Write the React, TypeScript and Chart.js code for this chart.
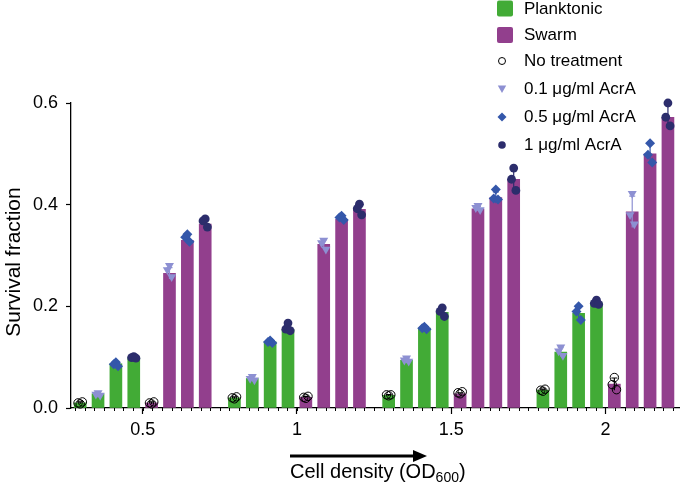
import React, { useEffect, useRef } from 'react';
import { Chart, registerables } from 'chart.js';

Chart.register(...registerables);

// ---------------- data ----------------
const densities = [0.5, 1, 1.5, 2];
const densityTickLabels = ['0.5', '1', '1.5', '2'];
const yTickValues = [0, 0.2, 0.4, 0.6];
const cultureLabels = ['Planktonic', 'Swarm'];
const treatmentLabels = ['No treatment', '0.1 μg/ml AcrA', '0.5 μg/ml AcrA', '1 μg/ml AcrA'];

// bar heights (mean survival fraction), one per cell density
const planktonicNone = [0.010, 0.020, 0.025, 0.035];
const planktonic01 = [0.028, 0.058, 0.094, 0.110];
const planktonic05 = [0.087, 0.130, 0.157, 0.186];
const planktonic1 = [0.099, 0.155, 0.188, 0.207];
const swarmNone = [0.010, 0.021, 0.028, 0.047];
const swarm01 = [0.265, 0.322, 0.392, 0.386];
const swarm05 = [0.330, 0.371, 0.414, 0.500];
const swarm1 = [0.362, 0.391, 0.450, 0.572];

// replicate points (3 per bar), one triple per cell density
const planktonicNoneReps = [[0.008, 0.010, 0.012], [0.018, 0.020, 0.022], [0.024, 0.026, 0.026], [0.033, 0.035, 0.037]];
const planktonic01Reps = [[0.030, 0.027, 0.025], [0.062, 0.058, 0.055], [0.098, 0.094, 0.092], [0.120, 0.112, 0.103]];
const planktonic05Reps = [[0.090, 0.086, 0.082], [0.133, 0.130, 0.128], [0.160, 0.157, 0.155], [0.200, 0.190, 0.173]];
const planktonic1Reps = [[0.101, 0.099, 0.098], [0.167, 0.155, 0.152], [0.197, 0.190, 0.180], [0.212, 0.206, 0.204]];
const swarmNoneReps = [[0.008, 0.010, 0.012], [0.019, 0.021, 0.023], [0.028, 0.030, 0.032], [0.060, 0.046, 0.036]];
const swarm01Reps = [[0.280, 0.272, 0.258], [0.330, 0.325, 0.312], [0.398, 0.394, 0.390], [0.422, 0.380, 0.362]];
const swarm05Reps = [[0.342, 0.336, 0.327], [0.378, 0.375, 0.370], [0.430, 0.412, 0.410], [0.521, 0.498, 0.483]];
const swarm1Reps = [[0.372, 0.368, 0.356], [0.401, 0.392, 0.380], [0.472, 0.450, 0.428], [0.600, 0.572, 0.555]];

// ---------------- styling / layout ----------------
const FONT = '"Liberation Sans", Arial, Helvetica, sans-serif';
const cultureColors = ['#42ab36', '#923f8d'];
const treatmentColors = ['#000000', '#8d90d2', '#3457aa', '#2c2d6c'];
const X_MIN = 0.2676;
const X_MAX = 2.2411;
const BAR_STEP = 0.0579;
const MINOR_STEP = 0.03125;
const JITTER = [0, -0.007, 0.007];

const means = [
  [planktonicNone, planktonic01, planktonic05, planktonic1],
  [swarmNone, swarm01, swarm05, swarm1],
];
const reps = [
  [planktonicNoneReps, planktonic01Reps, planktonic05Reps, planktonic1Reps],
  [swarmNoneReps, swarm01Reps, swarm05Reps, swarm1Reps],
];

const slotX = (d: number, ci: number, ti: number) => d + (ci * 4 + ti - 3.5) * BAR_STEP;
const sd = (a: number[]) => {
  const m = a.reduce((s, v) => s + v, 0) / a.length;
  return Math.sqrt(a.reduce((s, v) => s + (v - m) * (v - m), 0) / (a.length - 1));
};

const errorBarPlugin = {
  id: 'errorBars',
  afterDatasetDraw(chart: any, args: any) {
    const ds = chart.data.datasets[args.index];
    if (!ds.errorBars) return;
    const { ctx } = chart;
    const xs = chart.scales.x;
    const ys = chart.scales.y;
    ctx.save();
    ds.errorBars.forEach((e: any) => {
      const px = xs.getPixelForValue(e.x);
      const t = ys.getPixelForValue(e.mean + e.sd);
      const b = ys.getPixelForValue(Math.max(0, e.mean - e.sd));
      ctx.strokeStyle = e.color;
      ctx.lineWidth = 1.2;
      ctx.beginPath();
      ctx.moveTo(px, t);
      ctx.lineTo(px, b);
      ctx.moveTo(px - 3, t);
      ctx.lineTo(px + 3, t);
      ctx.stroke();
    });
    ctx.restore();
  },
};

const decorPlugin = {
  id: 'decor',
  afterDraw(chart: any) {
    const { ctx } = chart;
    const xs = chart.scales.x;
    const ys = chart.scales.y;
    const axisY = ys.getPixelForValue(0);
    ctx.save();
    // minor ticks on x axis
    ctx.strokeStyle = '#000';
    ctx.lineWidth = 1;
    for (let v = Math.ceil(X_MIN / MINOR_STEP) * MINOR_STEP; v <= X_MAX; v += MINOR_STEP) {
      const px = Math.round(xs.getPixelForValue(v)) + 0.5;
      ctx.beginPath();
      ctx.moveTo(px, axisY);
      ctx.lineTo(px, axisY + 3);
      ctx.stroke();
    }
    // y title
    ctx.fillStyle = '#000';
    ctx.font = `21px ${FONT}`;
    ctx.textAlign = 'center';
    ctx.textBaseline = 'middle';
    ctx.save();
    ctx.translate(14, 262);
    ctx.rotate(-Math.PI / 2);
    ctx.fillText('Survival fraction', 0, 0);
    ctx.restore();
    // arrow
    ctx.lineWidth = 2.8;
    ctx.beginPath();
    ctx.moveTo(290, 456);
    ctx.lineTo(416, 456);
    ctx.stroke();
    ctx.beginPath();
    ctx.moveTo(427, 456);
    ctx.lineTo(413, 450);
    ctx.lineTo(413, 462);
    ctx.closePath();
    ctx.fill();
    // x title with subscript
    ctx.textAlign = 'left';
    ctx.textBaseline = 'alphabetic';
    ctx.font = `20px ${FONT}`;
    let tx = 290;
    const base = 478;
    const main = 'Cell density (OD';
    ctx.fillText(main, tx, base);
    tx += ctx.measureText(main).width;
    ctx.font = `14px ${FONT}`;
    ctx.fillText('600', tx, base + 4);
    tx += ctx.measureText('600').width;
    ctx.font = `20px ${FONT}`;
    ctx.fillText(')', tx, base);
    // legend
    const rowY = [8.5, 35, 61, 89, 117, 145];
    ctx.font = `17px ${FONT}`;
    ctx.textBaseline = 'middle';
    cultureLabels.forEach((lab, i) => {
      ctx.fillStyle = cultureColors[i];
      ctx.beginPath();
      (ctx as any).roundRect(497, rowY[i] - 8, 16, 16, 2);
      ctx.fill();
      ctx.fillStyle = '#000';
      ctx.fillText(lab, 524, rowY[i] + 0.5);
    });
    treatmentLabels.forEach((lab, i) => {
      const y = rowY[i + 2];
      const x = 502;
      ctx.fillStyle = treatmentColors[i];
      ctx.strokeStyle = treatmentColors[i];
      ctx.lineWidth = 1;
      ctx.beginPath();
      if (i === 0) {
        ctx.arc(x, y, 3.5, 0, Math.PI * 2);
        ctx.stroke();
      } else if (i === 1) {
        ctx.moveTo(x - 4.2, y - 3.5);
        ctx.lineTo(x + 4.2, y - 3.5);
        ctx.lineTo(x, y + 4);
        ctx.closePath();
        ctx.fill();
      } else if (i === 2) {
        ctx.moveTo(x, y - 4.5);
        ctx.lineTo(x + 4.5, y);
        ctx.lineTo(x, y + 4.5);
        ctx.lineTo(x - 4.5, y);
        ctx.closePath();
        ctx.fill();
      } else {
        ctx.arc(x, y, 3.8, 0, Math.PI * 2);
        ctx.fill();
      }
      ctx.fillStyle = '#000';
      ctx.fillText(lab, 524, y + 0.5);
    });
    ctx.restore();
  },
};

export default function App() {
  const ref = useRef<HTMLCanvasElement | null>(null);

  useEffect(() => {
    if (!ref.current) return;
    Chart.defaults.font.family = FONT;

    const barDatasets = [0, 1].map((ci) => {
      const data: any[] = [];
      const errorBars: any[] = [];
      densities.forEach((d, di) => {
        means[ci].forEach((arr, ti) => {
          const x = slotX(d, ci, ti);
          data.push({ x, y: arr[di] });
          errorBars.push({ x, mean: arr[di], sd: sd(reps[ci][ti][di]), color: treatmentColors[ti] });
        });
      });
      return {
        type: 'bar',
        label: cultureLabels[ci],
        data,
        errorBars,
        backgroundColor: cultureColors[ci],
        borderWidth: 0,
        barThickness: 12,
        grouped: false,
        order: 5,
        clip: false,
      };
    });

    const pointDatasets = treatmentLabels.map((lab, ti) => {
      const data: any[] = [];
      [0, 1].forEach((ci) => {
        densities.forEach((d, di) => {
          reps[ci][ti][di].forEach((v, ri) => {
            data.push({ x: slotX(d, ci, ti) + JITTER[ri], y: v });
          });
        });
      });
      const base: any = {
        type: 'scatter',
        label: lab,
        data,
        order: 1,
        clip: false,
        borderWidth: 0,
        backgroundColor: treatmentColors[ti],
        borderColor: treatmentColors[ti],
      };
      if (ti === 0) {
        Object.assign(base, { pointStyle: 'circle', pointRadius: 4.2, backgroundColor: 'rgba(0,0,0,0)', borderWidth: 1 });
      } else if (ti === 1) {
        Object.assign(base, { pointStyle: 'triangle', pointRadius: 5.2, pointRotation: 180 });
      } else if (ti === 2) {
        Object.assign(base, { pointStyle: 'rectRot', pointRadius: 5 });
      } else {
        Object.assign(base, { pointStyle: 'circle', pointRadius: 4.4 });
      }
      return base;
    });

    const chart = new Chart(ref.current, {
      type: 'bar',
      data: { datasets: [...barDatasets, ...pointDatasets] as any },
      options: {
        animation: false,
        responsive: false,
        devicePixelRatio: 1,
        layout: { padding: { top: 103, left: 0, right: 0, bottom: 0 } },
        plugins: { legend: { display: false }, tooltip: { enabled: false } },
        scales: {
          x: {
            type: 'linear',
            min: X_MIN,
            max: X_MAX,
            offset: false,
            afterBuildTicks: (axis: any) => {
              axis.ticks = densities.map((v) => ({ value: v }));
            },
            afterFit: (scale: any) => {
              scale.height = 81;
            },
            ticks: {
              color: '#000',
              font: { size: 18, family: FONT },
              padding: 5,
              maxRotation: 0,
              autoSkip: false,
              callback: (v: any) => {
                const i = densities.indexOf(Number(v));
                return i >= 0 ? densityTickLabels[i] : '';
              },
            },
            grid: { offset: false, drawOnChartArea: false, drawTicks: true, tickLength: 6, color: '#000', tickWidth: 1.2 },
            border: { display: true, color: '#000', width: 1.3 },
          },
          y: {
            min: 0,
            max: 0.6,
            afterBuildTicks: (axis: any) => {
              axis.ticks = yTickValues.map((v) => ({ value: v }));
            },
            afterFit: (scale: any) => {
              scale.width = 71;
            },
            ticks: {
              color: '#000',
              font: { size: 18, family: FONT },
              padding: 8,
              callback: (v: any) => Number(v).toFixed(1),
            },
            grid: { drawOnChartArea: false, drawTicks: true, tickLength: 5, color: '#000', tickWidth: 1.2 },
            border: { display: true, color: '#000', width: 1.3 },
          },
        },
      } as any,
      plugins: [errorBarPlugin, decorPlugin],
    });
    return () => chart.destroy();
  }, []);

  return (
    <div style={{ position: 'absolute', left: 0, top: 0, width: 685, height: 489, background: '#fff' }}>
      <canvas ref={ref} width={685} height={489} style={{ display: 'block' }} />
    </div>
  );
}
